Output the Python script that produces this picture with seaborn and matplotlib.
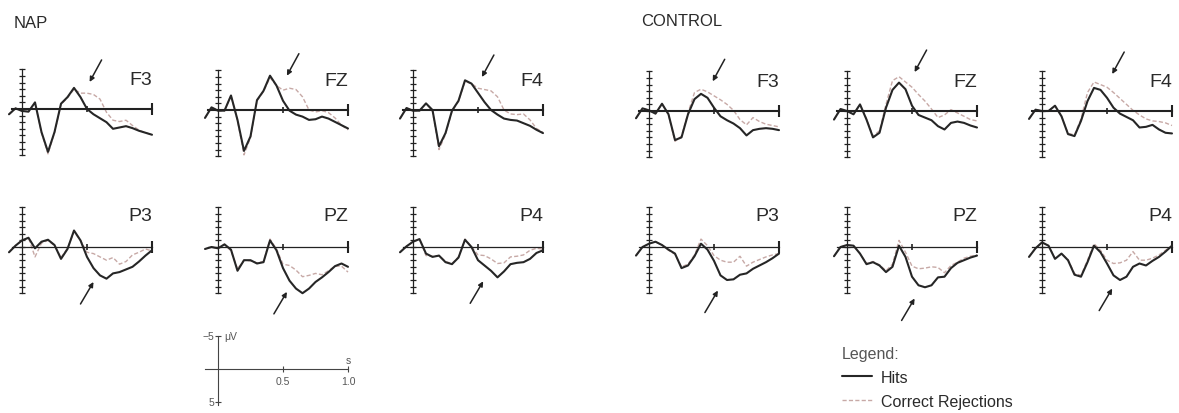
import matplotlib
matplotlib.use("Agg")
import matplotlib.pyplot as plt
from matplotlib.lines import Line2D
import seaborn as sns

# --- DATA (µV, negative plotted up; time in s) ---
TIME = [-0.1, -0.05, 0.0, 0.05, 0.1, 0.15, 0.2, 0.25, 0.3, 0.35, 0.4, 0.45,
        0.5, 0.55, 0.6, 0.65, 0.7, 0.75, 0.8, 0.85, 0.9, 0.95, 1.0]

NAP_F3_HITS = [0.8, -0.1, 0.3, 0.4, -1.0, 3.5, 6.5, 3.5, -0.8, -1.8, -3.2, -1.8, 0.0, 0.8, 1.4, 2.0, 3.0, 2.8, 2.6, 2.9, 3.3, 3.6, 3.9]
NAP_F3_CR = [0.8, -0.1, 0.3, 0.4, -1.0, 3.6, 6.8, 3.6, -0.7, -1.7, -3.0, -2.4, -2.4, -2.2, -1.5, 0.5, 1.7, 1.9, 1.7, 2.5, 3.2, 3.6, 3.9]
NAP_FZ_HITS = [1.2, -0.4, 0.1, 0.1, -2.2, 1.5, 6.2, 4.0, -1.5, -2.9, -5.2, -3.7, -1.4, 0.1, 0.7, 1.0, 1.5, 1.4, 1.0, 1.3, 1.8, 2.3, 2.8]
NAP_FZ_CR = [1.2, -0.4, 0.1, 0.1, -2.2, 1.6, 6.8, 4.2, -1.4, -2.8, -4.9, -3.7, -3.0, -3.3, -3.1, -2.0, 0.0, 0.3, 0.1, 0.4, 1.2, 2.3, 3.0]
NAP_F4_HITS = [1.3, -0.3, 0.1, 0.1, -1.0, 0.0, 5.5, 3.5, 0.1, -1.4, -4.5, -4.0, -2.6, -1.2, 0.0, 0.7, 1.3, 1.5, 1.6, 2.0, 2.4, 3.0, 3.5]
NAP_F4_CR = [1.3, -0.3, 0.1, 0.1, -1.0, 0.2, 6.0, 3.7, 0.2, -1.3, -4.3, -4.0, -3.3, -3.1, -2.9, -2.0, 0.0, 0.6, 0.7, 0.6, 1.5, 2.8, 3.4]
NAP_P3_HITS = [0.8, -0.2, -1.0, -1.4, 0.2, -0.8, -1.1, -0.3, 1.8, 0.3, -2.5, -1.0, 1.5, 3.2, 4.3, 4.8, 4.0, 3.8, 3.4, 3.0, 2.2, 1.3, 0.5]
NAP_P3_CR = [0.8, -0.2, -1.0, -1.4, 1.5, -0.6, -1.0, -0.2, 1.6, 0.2, -2.3, -1.0, 0.8, 1.0, 1.5, 2.0, 1.6, 2.6, 2.2, 1.2, 0.8, 0.3, 0.6]
NAP_PZ_HITS = [0.3, 0.0, 0.2, -0.4, 0.4, 3.6, 2.0, 2.0, 2.5, 2.3, -1.0, 0.5, 3.2, 5.1, 6.3, 7.0, 6.3, 5.3, 4.6, 3.8, 2.9, 2.5, 3.0]
NAP_PZ_CR = [0.3, 0.0, 0.2, -0.4, 0.6, 3.3, 2.0, 2.1, 2.4, 2.2, -1.2, 0.3, 2.6, 2.8, 3.5, 4.5, 4.3, 4.0, 4.2, 3.6, 2.9, 2.9, 3.8]
NAP_P4_HITS = [0.8, -0.1, -0.8, -1.2, 1.0, 1.5, 1.3, 2.3, 2.6, 1.6, -1.1, 0.0, 2.0, 2.8, 3.6, 4.6, 3.7, 2.6, 2.4, 2.3, 1.8, 0.9, 0.5]
NAP_P4_CR = [0.8, -0.1, -0.8, -1.2, 1.3, 1.4, 1.3, 2.2, 2.5, 1.5, -1.2, 0.0, 1.2, 1.3, 1.8, 2.5, 2.4, 1.5, 1.4, 1.2, 0.5, 0.2, 0.3]

CTRL_F3_HITS = [1.1, -0.4, -0.1, 0.4, -1.1, 0.5, 4.4, 4.0, 0.5, -1.8, -2.6, -2.0, -0.5, 0.8, 1.4, 1.9, 2.6, 3.7, 2.9, 2.7, 2.6, 2.7, 2.9]
CTRL_F3_CR = [1.1, -0.4, -0.1, 0.4, -1.1, 0.6, 4.6, 3.8, 0.3, -2.8, -3.3, -2.9, -2.3, -1.7, -1.0, -0.1, 1.3, 2.1, 1.0, 1.6, 2.0, 2.2, 2.4]
CTRL_FZ_HITS = [1.3, -0.3, 0.0, 0.5, -1.0, 1.3, 4.0, 3.3, -0.5, -3.2, -4.3, -3.3, -0.8, 0.6, 1.0, 1.4, 2.3, 2.8, 1.8, 1.6, 1.8, 2.2, 2.5]
CTRL_FZ_CR = [1.3, -0.3, 0.0, 0.5, -1.0, 1.2, 3.8, 3.0, -1.0, -4.6, -5.2, -4.4, -3.6, -2.5, -1.5, -0.3, 1.0, 0.6, -0.2, 0.3, 0.8, 1.3, 1.5]
CTRL_F4_HITS = [1.2, -0.2, 0.0, 0.0, -0.8, 0.8, 3.5, 3.8, 1.5, -1.5, -3.5, -3.2, -2.0, -0.5, 0.4, 0.9, 1.4, 2.5, 2.4, 2.1, 2.8, 3.3, 3.4]
CTRL_F4_CR = [1.2, -0.2, 0.0, 0.0, -0.8, 0.8, 3.4, 3.6, 1.2, -2.8, -4.4, -4.0, -3.6, -2.8, -1.9, -1.0, -0.1, 0.6, 1.2, 1.5, 1.6, 1.8, 2.2]
CTRL_P3_HITS = [1.3, 0.0, -0.5, -0.8, -0.3, 0.4, 1.0, 3.2, 2.8, 1.4, -0.5, 0.4, 2.1, 4.3, 5.0, 4.9, 4.2, 4.0, 3.3, 2.8, 2.3, 1.7, 1.0]
CTRL_P3_CR = [1.3, 0.0, -0.5, -0.8, -0.3, 0.5, 1.1, 3.0, 2.6, 1.2, -1.2, -0.2, 1.3, 2.0, 2.3, 2.3, 1.4, 2.9, 2.3, 1.9, 1.5, 1.2, 1.0]
CTRL_PZ_HITS = [1.4, 0.0, -0.3, -0.2, 1.0, 2.6, 2.3, 2.8, 3.8, 3.0, -0.2, 1.5, 4.5, 5.8, 6.1, 5.8, 4.6, 4.5, 3.2, 2.4, 2.0, 1.6, 1.3]
CTRL_PZ_CR = [1.4, 0.0, -0.3, -0.2, 1.0, 2.5, 2.2, 2.7, 3.6, 2.6, -1.0, 0.8, 2.9, 3.3, 3.2, 3.0, 3.1, 3.9, 2.8, 2.3, 1.7, 1.4, 1.2]
CTRL_P4_HITS = [1.5, 0.2, -0.7, -0.2, 1.8, 1.0, 2.0, 4.2, 4.5, 2.3, -0.2, 0.8, 2.5, 4.3, 5.0, 4.5, 3.0, 2.5, 2.8, 2.1, 1.5, 0.7, -0.2]
CTRL_P4_CR = [1.5, 0.2, -0.7, -0.2, 1.7, 1.0, 1.9, 4.0, 4.3, 2.0, -0.5, 0.5, 2.0, 2.5, 2.4, 2.0, 0.7, 2.0, 2.0, 1.7, 1.2, 0.5, -0.2]

# arrow tips (time, µV) for each panel
NAP_ARROWS = [(0.52, -4.1), (0.53, -5.2), (0.53, -5.0), (0.55, 5.3), (0.53, 6.8), (0.54, 5.2)]
CTRL_ARROWS = [(0.49, -4.5), (0.52, -5.9), (0.54, -5.6), (0.53, 6.6), (0.52, 7.8), (0.54, 6.3)]

# --- LAYOUT (pixels) ---
W, H = 1179, 414
PX_S, PX_UV = 130.0, 6.6
XLIM = (-0.12, 1.04)
YLIM = (7.8, -6.8)
HIT_COLOR = "#262626"
CR_COLOR = "#c7a9a6"
TEXT_COLOR = "#2a2a2a"
AXIS_COLOR = "#222222"


def panel_rect(x0, y0):
    left = x0 + XLIM[0] * PX_S
    width = (XLIM[1] - XLIM[0]) * PX_S
    top = y0 + YLIM[1] * PX_UV
    height = (YLIM[0] - YLIM[1]) * PX_UV
    return [left / W, 1 - (top + height) / H, width / W, height / H]


def draw_panel(fig, x0, y0, hits, cr, label, arrow, top_row):
    ax = fig.add_axes(panel_rect(x0, y0))
    ax.set_xlim(*XLIM)
    ax.set_ylim(*YLIM)
    sns.lineplot(x=TIME, y=cr, ax=ax, color=CR_COLOR, lw=1.0)
    ax.lines[-1].set_dashes((3, 1.6))
    sns.lineplot(x=TIME, y=hits, ax=ax, color=HIT_COLOR, lw=1.5)
    for ln in ax.lines:
        ln.set_solid_joinstyle("round")
        ln.set_dash_joinstyle("round")

    for s in ["top", "right"]:
        ax.spines[s].set_visible(False)
    ax.spines["left"].set_position(("data", 0))
    ax.spines["bottom"].set_position(("data", 0))
    ax.spines["left"].set_bounds(-6, 7)
    ax.spines["bottom"].set_bounds(-0.08, 1.0)
    ax.spines["left"].set_linewidth(0.9)
    ax.spines["bottom"].set_linewidth(1.5 if top_row else 0.9)
    for s in ["left", "bottom"]:
        ax.spines[s].set_color(AXIS_COLOR)

    ax.set_yticks(range(-6, 8))
    ax.set_xticks([1.0])
    ax.set_xticks([0.5], minor=True)
    ax.tick_params(axis="y", left=True, direction="inout", length=5, width=0.9,
                   color=AXIS_COLOR, labelleft=False)
    ax.tick_params(axis="x", which="major", bottom=True, direction="inout", length=8,
                   width=1.5, color=AXIS_COLOR, labelbottom=False)
    ax.tick_params(axis="x", which="minor", bottom=True, direction="inout", length=5,
                   width=1.2, color=AXIS_COLOR)
    ax.set_xlabel("")
    ax.set_ylabel("")
    ax.patch.set_alpha(0)

    ax.text(1.0, -4.4 if top_row else -4.7, label, ha="right", va="center",
            fontsize=14, color=TEXT_COLOR)

    off = (12, 22) if top_row else (-13, -22)
    ax.annotate("", xy=arrow, xytext=off, textcoords="offset pixels",
                arrowprops=dict(arrowstyle="-|>", color=AXIS_COLOR, lw=1.1,
                                mutation_scale=7, shrinkA=0, shrinkB=0),
                annotation_clip=False)
    return ax


sns.set_style("white")
plt.rcParams["font.family"] = ["Liberation Sans", "DejaVu Sans"]

fig = plt.figure(figsize=(W / 100, H / 100), dpi=100)

nap = [(22, 110, NAP_F3_HITS, NAP_F3_CR, "F3"), (218, 111, NAP_FZ_HITS, NAP_FZ_CR, "FZ"),
       (413, 111, NAP_F4_HITS, NAP_F4_CR, "F4"), (22, 248, NAP_P3_HITS, NAP_P3_CR, "P3"),
       (218, 248, NAP_PZ_HITS, NAP_PZ_CR, "PZ"), (413, 248, NAP_P4_HITS, NAP_P4_CR, "P4")]
ctrl = [(649, 112, CTRL_F3_HITS, CTRL_F3_CR, "F3"), (847, 112, CTRL_FZ_HITS, CTRL_FZ_CR, "FZ"),
        (1042, 112, CTRL_F4_HITS, CTRL_F4_CR, "F4"), (649, 248, CTRL_P3_HITS, CTRL_P3_CR, "P3"),
        (847, 248, CTRL_PZ_HITS, CTRL_PZ_CR, "PZ"), (1042, 248, CTRL_P4_HITS, CTRL_P4_CR, "P4")]

for i, (x0, y0, hits, cr, lab) in enumerate(nap):
    draw_panel(fig, x0, y0, hits, cr, lab, NAP_ARROWS[i], i < 3)
for i, (x0, y0, hits, cr, lab) in enumerate(ctrl):
    draw_panel(fig, x0, y0, hits, cr, lab, CTRL_ARROWS[i], i < 3)

fig.text(14 / W, 1 - 24 / H, "NAP", fontsize=12, va="center", color=TEXT_COLOR)
fig.text(641 / W, 1 - 22 / H, "CONTROL", fontsize=12, va="center", color=TEXT_COLOR)

# --- scale bar ---
sb = fig.add_axes(panel_rect(218, 370))
sb.set_xlim(*XLIM)
sb.set_ylim(*YLIM)
for s in ["top", "right"]:
    sb.spines[s].set_visible(False)
sb.spines["left"].set_position(("data", 0))
sb.spines["bottom"].set_position(("data", 0))
sb.spines["left"].set_bounds(-5, 5.4)
sb.spines["bottom"].set_bounds(-0.1, 1.0)
for s in ["left", "bottom"]:
    sb.spines[s].set_linewidth(0.8)
    sb.spines[s].set_color("#444444")
sb.set_yticks([-5, 5])
sb.set_xticks([0.5, 1.0])
sb.tick_params(left=True, bottom=True, direction="inout", length=5, width=0.8,
               color="#444444", labelleft=False, labelbottom=False)
sb.patch.set_alpha(0)
sc = dict(fontsize=7.5, color="#555555")
sb.text(-0.03, -5, "\u22125", ha="right", va="center", **sc)
sb.text(0.05, -5, "\u03bcV", ha="left", va="center", **sc)
sb.text(0.5, 1.8, "0.5", ha="center", va="center", **sc)
sb.text(1.0, 1.8, "1.0", ha="center", va="center", **sc)
sb.text(1.0, -1.4, "s", ha="center", va="center", **sc)
sb.text(-0.03, 5, "5", ha="right", va="center", **sc)

# --- legend ---
handles = [Line2D([], [], color=HIT_COLOR, lw=1.5),
           Line2D([], [], color=CR_COLOR, lw=1.0, dashes=(3, 1.6))]
leg = fig.legend(handles, ["Hits", "Correct Rejections"], title="Legend:",
                 loc="upper left", bbox_to_anchor=(842 / W, 1 - 347 / H),
                 frameon=False, fontsize=11.5, title_fontsize=11.5, alignment="left",
                 handlelength=1.9, handletextpad=0.55, labelspacing=0.55,
                 borderpad=0, borderaxespad=0)
for t in leg.get_texts():
    t.set_color(TEXT_COLOR)
leg.get_title().set_color("#555555")

fig.savefig("out.png", dpi=100)
